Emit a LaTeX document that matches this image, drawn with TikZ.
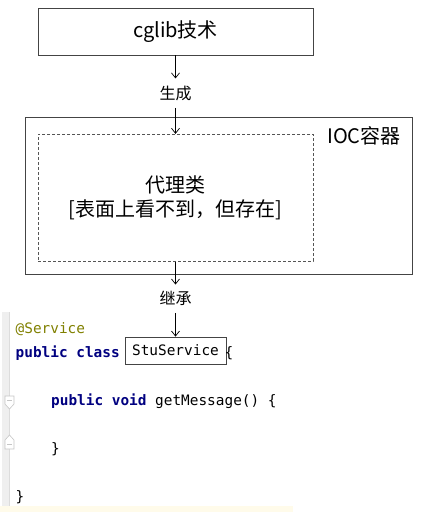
\documentclass[tikz,border=0pt]{standalone}
\usepackage{fontspec}
\setmainfont{Noto Sans CJK SC}
\newfontfamily\codefont{DejaVu Sans Mono}
\usetikzlibrary{positioning, arrows.meta}
\definecolor{boxgray}{HTML}{444444}
\definecolor{dashgray}{HTML}{555555}
\definecolor{kwnavy}{HTML}{000080}
\definecolor{annotolive}{HTML}{808000}
\definecolor{guttergray}{HTML}{EFEFEF}
\definecolor{gutterline}{HTML}{DCDCDC}
\definecolor{linehl}{HTML}{FFFBEA}
\newcommand{\kw}[1]{\textcolor{kwnavy}{\bfseries #1}}

\begin{document}
\begin{tikzpicture}[
    x=1pt, y=-1pt,
    block/.style={draw=boxgray, line width=0.9pt, inner sep=0pt,
                  font=\fontsize{20}{24}\selectfont, align=center},
    proxyblock/.style={draw=dashgray, line width=0.7pt,
                  dash pattern=on 3pt off 2pt, inner sep=0pt,
                  font=\fontsize{20}{24}\selectfont, align=center},
    edgetext/.style={inner sep=0pt, minimum height=29pt,
                  font=\fontsize{16}{18}\selectfont},
    codetext/.style={inner sep=0pt, anchor=base west,
                  font=\codefont\fontsize{14.4}{17}\selectfont},
    stubox/.style={draw=boxgray, line width=0.8pt, inner sep=0pt,
                  minimum width=101pt, minimum height=27pt,
                  font=\codefont\fontsize{14.4}{17}\selectfont},
    arrow/.style={-{Straight Barb[length=5pt, width=8pt]}, line width=0.7pt},
    foldmark/.style={fill=white, draw=gray!45, line width=0.6pt},
]
\useasboundingbox (0,0) rectangle (428,512);

% === cglib ===
\node[block, minimum width=275pt, minimum height=47pt] (cglib)
  at (175.5,31.5) {cglib技术};
\node[edgetext, below=23pt of cglib] (gen) {生成};

% === IOC container ===
\node[block, minimum width=387pt, minimum height=157pt] (ioc)
  at (218.5,195.5) {};
\node[font=\fontsize{20}{24}\selectfont, inner sep=0pt] (ioclabel)
  at (364,136) {IOC容器};

% === Proxy class ===
\node[proxyblock, below=26pt of gen, minimum width=275pt,
      minimum height=127pt] (proxy) {代理类\\{}{[}表面上看不到，但存在{]}};
\node[edgetext, minimum height=28pt, below=23pt of proxy] (inherit) {继承};

% === Code editor ===
\fill[guttergray] (2,312) rectangle (9,506);
\draw[gutterline] (9.5,312) -- (9.5,506);
\fill[linehl] (0,506) rectangle (293,512);

\node[codetext] (anno) at (15.5,333) {\textcolor{annotolive}{@Service}};
\node[codetext] (classdecl) at (15.5,357) {\kw{public class}};
\node[stubox] (stu) at (175.5,350.5) {StuService};
\node[codetext] (openbrace) at (224.5,357) {\{};
\node[codetext] (method) at (51,405) {\kw{public void} getMessage() \{};
\node[codetext] (innerclose) at (51,453) {\}};
\node[codetext] (outerclose) at (15.5,501) {\}};

% fold markers
\draw[foldmark] (5,396) -- (14,396) -- (14,404) -- (9.5,409) -- (5,404) -- cycle;
\draw[gray!45] (7,400.5) -- (12,400.5);
\draw[foldmark] (5,449) -- (14,449) -- (14,440) -- (9.5,435) -- (5,440) -- cycle;
\draw[gray!45] (7,444.5) -- (12,444.5);

% === Arrows ===
\draw[arrow] (cglib) -- (gen);
\draw[arrow] (gen) -- (proxy);
\draw[arrow] (proxy) -- (inherit);
\draw[arrow] (inherit) -- (stu);

\end{tikzpicture}
\end{document}
